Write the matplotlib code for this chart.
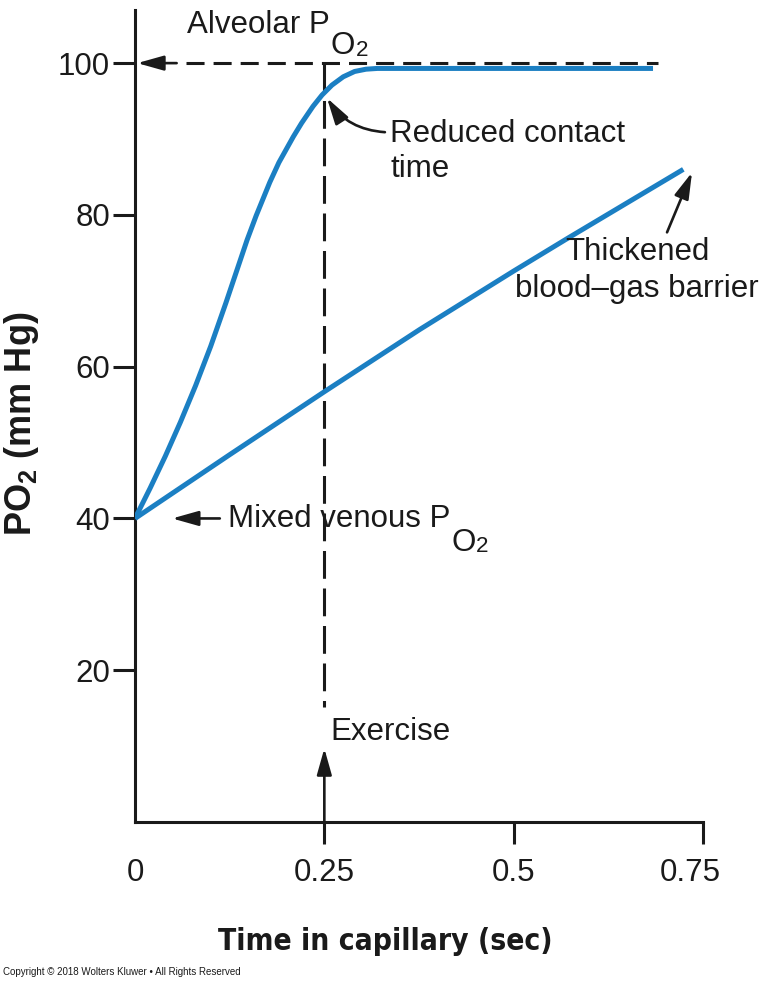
import matplotlib
matplotlib.use("Agg")
import matplotlib.pyplot as plt
import matplotlib.transforms as mtransforms
from matplotlib import font_manager

plt.rcParams['font.family'] = ['Liberation Sans', 'DejaVu Sans']
plt.rcParams['mathtext.fontset'] = 'custom'
plt.rcParams['mathtext.rm'] = 'Liberation Sans'
plt.rcParams['mathtext.bf'] = 'Liberation Sans:bold'
plt.rcParams['mathtext.default'] = 'regular'
plt.rcParams['lines.scale_dashes'] = False

# ---------------- data ----------------
reduced_t = [0, 0.02, 0.04, 0.06, 0.08, 0.10, 0.12, 0.148, 0.16, 0.178,
             0.19, 0.209, 0.22, 0.235, 0.247, 0.26, 0.275, 0.29, 0.305, 0.32,
             0.45, 0.6, 0.684]
reduced_po2 = [40, 44.0, 48.2, 52.7, 57.5, 62.7, 68.4, 76.7, 79.9, 84.3,
               86.9, 90.3, 92.1, 94.3, 95.8, 97.1, 98.2, 98.9, 99.2, 99.3,
               99.3, 99.3, 99.3]

thick_t = [0, 0.125, 0.25, 0.376, 0.5, 0.571, 0.65, 0.724]
thick_po2 = [40, 48.4, 56.7, 64.9, 72.6, 76.9, 81.6, 86.0]

alveolar_po2 = 100
venous_po2 = 40
exercise_t = 0.25

x_ticks = [0, 0.25, 0.5, 0.75]
x_ticklabels = ['0', '0.25', '0.5', '0.75']
y_ticks = [20, 40, 60, 80, 100]
y_ticklabels = ['20', '40', '60', '80', '100']

BLUE = '#1b7fc3'
BLACK = '#1a1a1a'
FS = 22.5

# pick a condensed bold face for the x label if one is installed
entries = [(f.name, f.stretch) for f in font_manager.fontManager.ttflist]
if any(n == 'Liberation Sans Narrow' for n, _ in entries):
    XL_FAMILY, XL_STRETCH, XL_SIZE = ['Liberation Sans Narrow'], 'normal', 28
elif any(n == 'DejaVu Sans' and s in ('condensed', 'semi-condensed')
         for n, s in entries):
    XL_FAMILY, XL_STRETCH, XL_SIZE = ['DejaVu Sans'], 'condensed', 21.5
else:
    XL_FAMILY, XL_STRETCH, XL_SIZE = ['Liberation Sans'], 'normal', 24

W, H = 768, 983
fig = plt.figure(figsize=(W / 100, H / 100), dpi=100)
ax = fig.add_axes([135 / W, (H - 822) / H, 568 / W, 812 / H])
ax.set_xlim(0, 0.75)
ax.set_ylim(0, 107.0)

for s in ['top', 'right']:
    ax.spines[s].set_visible(False)
for s in ['left', 'bottom']:
    ax.spines[s].set_linewidth(2.2)
    ax.spines[s].set_color(BLACK)

ax.set_xticks(x_ticks)
ax.set_xticklabels(x_ticklabels, fontsize=FS)
ax.set_yticks(y_ticks)
ax.set_yticklabels(y_ticklabels, fontsize=FS)
ax.tick_params(axis='both', direction='out', length=16, width=2.2, colors=BLACK)
ax.tick_params(axis='x', pad=10)
ax.tick_params(axis='y', pad=2)
ax.xaxis.get_major_ticks()[0].tick1line.set_visible(False)
lbl = ax.get_xticklabels()[-1]
lbl.set_transform(lbl.get_transform() +
                  mtransforms.ScaledTranslation(-13 / 100, 0, fig.dpi_scale_trans))

# curves
ax.plot(reduced_t, reduced_po2, color=BLUE, lw=3.6, solid_capstyle='butt',
        solid_joinstyle='round', zorder=3)
ax.plot(thick_t, thick_po2, color=BLUE, lw=3.6, solid_capstyle='butt',
        solid_joinstyle='round', zorder=3)

# alveolar dashed line with arrow
ax.plot([0.068, 0.69], [alveolar_po2, alveolar_po2], color=BLACK, lw=2.2,
        dashes=(13, 6.5), zorder=2)
arrow_kw = dict(arrowstyle='-|>,head_length=1.6,head_width=0.45',
                color=BLACK, lw=1.9, shrinkA=0, shrinkB=0, mutation_scale=10)
ax.annotate('', xy=(0.003, alveolar_po2), xytext=(0.055, alveolar_po2),
            arrowprops=arrow_kw, annotation_clip=False)

# exercise vertical dashed line + arrow
ax.plot([exercise_t, exercise_t], [alveolar_po2, 15.2], color=BLACK, lw=2.2,
        dashes=(20, 7), zorder=2)
ax.annotate('', xy=(exercise_t, 9.7), xytext=(exercise_t, 0),
            arrowprops=arrow_kw, annotation_clip=False)
ax.text(0.2575, 10.8, 'Exercise', fontsize=FS, va='baseline', ha='left', color=BLACK)

# Reduced contact time
ax.annotate('', xy=(0.2535, 95.4), xytext=(0.330, 90.9),
            arrowprops=dict(arrow_kw, connectionstyle='arc3,rad=-0.25'))
ax.text(0.337, 89.6, 'Reduced contact', fontsize=FS, va='baseline', ha='left', color=BLACK)
ax.text(0.337, 85.0, 'time', fontsize=FS, va='baseline', ha='left', color=BLACK)

# Thickened blood-gas barrier
ax.annotate('', xy=(0.7355, 85.6), xytext=(0.7025, 77.7),
            arrowprops=arrow_kw, annotation_clip=False)
ax.text(0.663, 74.0, 'Thickened', fontsize=FS, va='baseline', ha='center', color=BLACK)
ax.text(0.663, 69.2, 'blood\u2013gas barrier', fontsize=FS, va='baseline', ha='center',
        color=BLACK, clip_on=False)

# Mixed venous
ax.annotate('', xy=(0.049, venous_po2), xytext=(0.112, venous_po2), arrowprops=arrow_kw)


def po2_label(x, y, prefix, drop):
    t1 = ax.text(x, y, prefix, fontsize=FS, va='baseline', ha='left', color=BLACK,
                 clip_on=False)
    t2 = ax.annotate('O', xy=(1, y), xycoords=(t1, 'data'), xytext=(0.5, -drop),
                     textcoords='offset points', fontsize=FS, va='baseline', ha='left',
                     color=BLACK, annotation_clip=False)
    ax.annotate('2', xy=(1, y), xycoords=(t2, 'data'), xytext=(0.5, -drop - 1),
                textcoords='offset points', fontsize=FS * 0.72, va='baseline',
                ha='left', color=BLACK, annotation_clip=False)


po2_label(0.1228, 38.9, 'Mixed venous P', 17.5)
po2_label(0.0687, 104.0, 'Alveolar P', 15.5)

# axis labels
fig.text(22 / W, 1 - 424 / H, r'PO$_{\mathbf{2}}$ (mm Hg)', rotation=90, fontsize=26,
         fontweight='bold', ha='center', va='center', color=BLACK)
fig.text(385 / W, 1 - 942 / H, 'Time in capillary (sec)', fontsize=XL_SIZE,
         fontweight='bold', fontstretch=XL_STRETCH, ha='center', va='center',
         color=BLACK, family=XL_FAMILY)
fig.text(3 / W, 1 - 972 / H, 'Copyright \u00a9 2018 Wolters Kluwer \u2022 All Rights Reserved',
         fontsize=7.0, ha='left', va='center', color=BLACK, family=['Liberation Sans'])

fig.savefig('out.png', dpi=100)
